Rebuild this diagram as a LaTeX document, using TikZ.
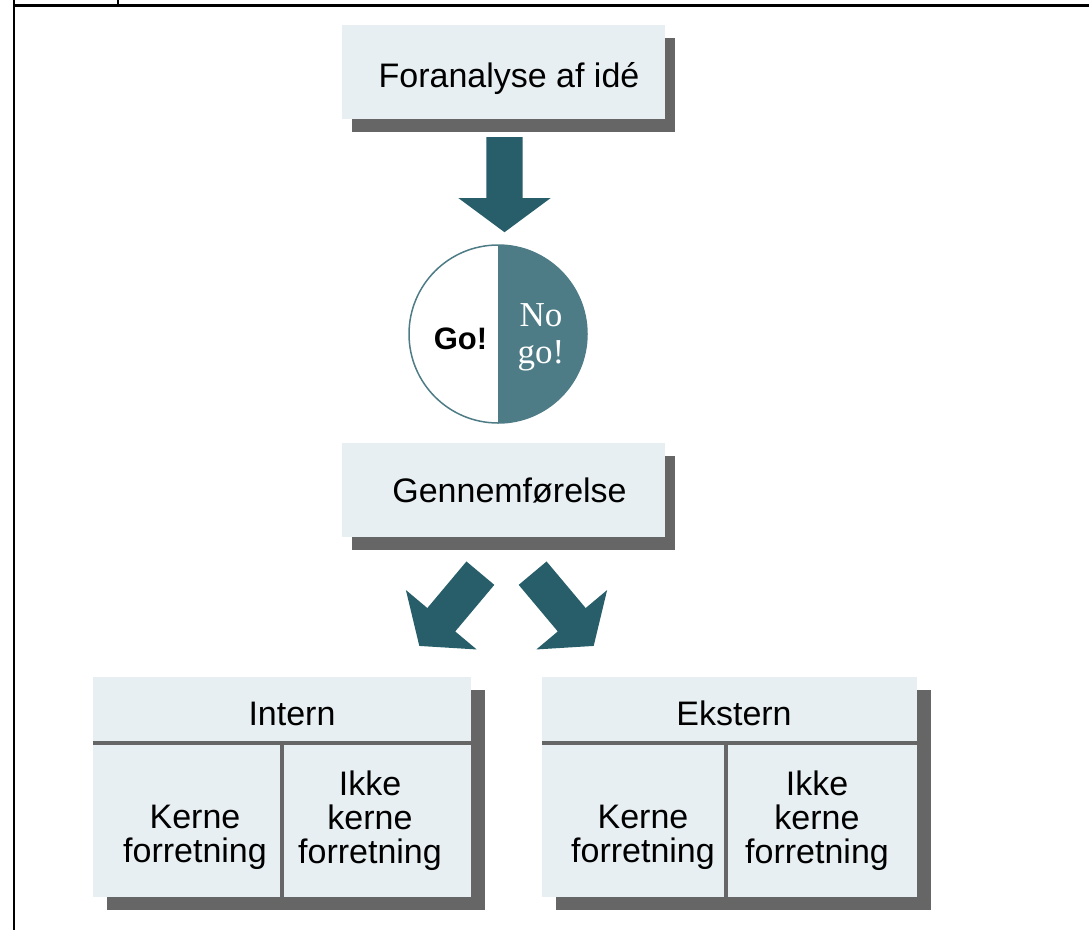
\documentclass[tikz,border=0pt]{standalone}
\usepackage{fontspec}
\setmainfont{Liberation Sans}
\newfontfamily\nogofont{Liberation Serif}
\usetikzlibrary{shapes.arrows,shadows}
\definecolor{boxfill}{RGB}{231,239,242}
\definecolor{shadowgrey}{RGB}{102,102,102}
\definecolor{arrowteal}{RGB}{39,94,105}
\definecolor{nogofill}{RGB}{78,124,134}
\begin{document}
\begin{tikzpicture}[
    x=1pt, y=-1pt,
    block/.style={
      rectangle,
      fill=boxfill,
      inner sep=0pt,
      drop shadow={shadow xshift=#1, shadow yshift=-13pt,
        fill=shadowgrey, opacity=1}
    },
    block/.default=10pt,
    bigarrow/.style={
      single arrow,
      fill=arrowteal,
      inner xsep=0pt,
      inner ysep=18pt,
      minimum height=95pt,
      single arrow head extend=28pt,
      single arrow tip angle=107,
      anchor=tail
    },
    boxtext/.style={font=\fontsize{34}{36}\selectfont, anchor=base},
    celltext/.style={font=\fontsize{34}{34}\selectfont, align=center},
    divider/.style={draw=shadowgrey, line width=3.5pt}
  ]
    \useasboundingbox (0,0) rectangle (1089,930);

    % frame
    \draw[line width=3pt] (14,5.5) -- (1089,5.5);
    \draw[line width=2.5pt] (14,0) -- (14,930);
    \draw[line width=1.5pt] (118,0) -- (118,5.5);

    % idea box
    \draw (503.5,72) node[block, minimum width=323pt, minimum height=94pt] (F) {};
    \node[boxtext] at (509,87) {Foranalyse af idé};

    % arrow down
    \node[bigarrow, rotate=-90] (A) at (504.5,137) {};

    % go / no go
    \node[circle, draw=nogofill, line width=1.5pt, fill=white,
      minimum size=178pt, inner sep=0pt] (GO) at (498,334) {};
    \begin{scope}
      \clip (GO.north) rectangle ([xshift=100pt]GO.south);
      \fill[nogofill] (GO.center) circle[radius=89];
    \end{scope}
    \node[font=\bfseries\fontsize{31}{34}\selectfont] (go) at (460.5,339) {Go!};
    \node[font=\nogofont\fontsize{35}{37}\selectfont, text=white,
      align=center] (nogo) at (541,337) {No\\go!};

    % execution box
    \draw (503.5,490) node[block, minimum width=323pt, minimum height=94pt] (G) {};
    \node[boxtext] at (509.5,502) {Gennemførelse};

    % split arrows
    \node[bigarrow, rotate=-130] (AL) at (480.5,573) {};
    \node[bigarrow, rotate=-50] (AR) at (532.5,573) {};

    % intern box
    \draw (282,787) node[block=14pt, minimum width=378pt, minimum height=220pt] (I) {};
    \coordinate (Ihead) at (282,743);
    \draw[divider] (I.west |- Ihead) -- (I.east |- Ihead);
    \draw[divider] (Ihead) -- (Ihead |- I.south);
    \node[boxtext] at (292,725) {Intern};
    \node[celltext] (IK) at (195,837) {Kerne\\forretning};
    \node[celltext] (IIK) at (370,821) {Ikke\\kerne\\forretning};

    % ekstern box
    \draw (729.5,787) node[block=14pt, minimum width=375pt, minimum height=220pt] (E) {};
    \coordinate (Ehead) at (726,743);
    \draw[divider] (E.west |- Ehead) -- (E.east |- Ehead);
    \draw[divider] (Ehead) -- (Ehead |- E.south);
    \node[boxtext] at (734,725) {Ekstern};
    \node[celltext] (EK) at (643,837) {Kerne\\forretning};
    \node[celltext] (EIK) at (817,821) {Ikke\\kerne\\forretning};
  \end{tikzpicture}
\end{document}
